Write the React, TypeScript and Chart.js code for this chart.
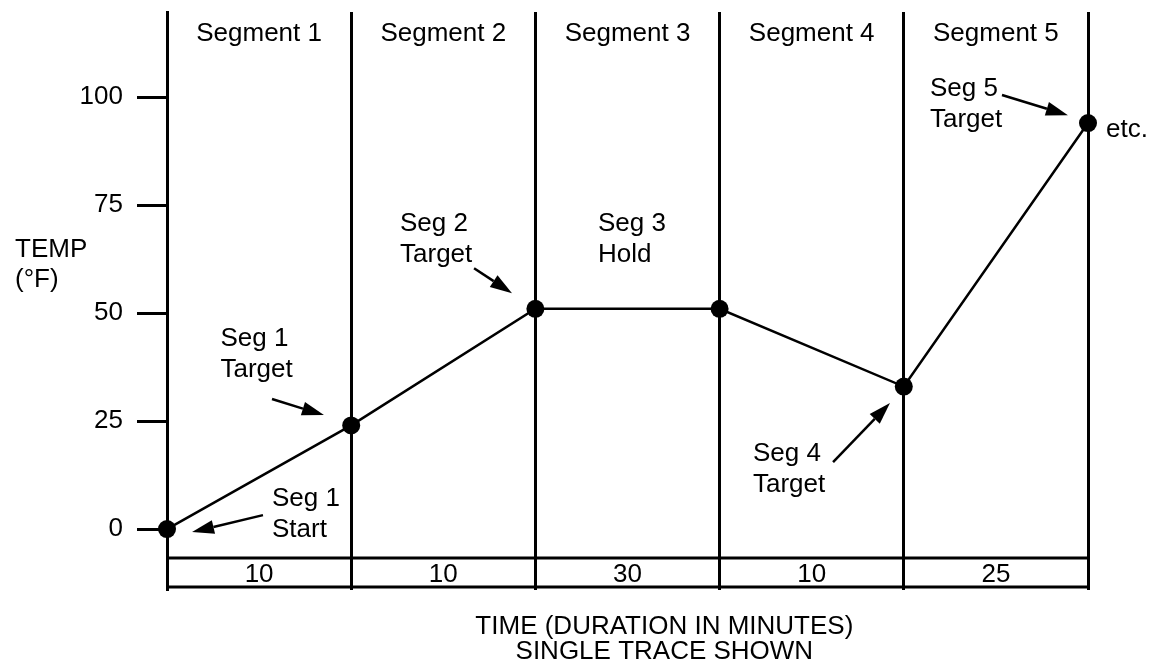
import React, { useEffect, useRef } from 'react';
import { Chart, registerables } from 'chart.js';

Chart.register(...registerables);

// ---- data ----
const SEGMENT_TITLES = ['Segment 1', 'Segment 2', 'Segment 3', 'Segment 4', 'Segment 5'];
const DURATIONS = ['10', '10', '30', '10', '25'];
const BOUNDARIES = [0, 1, 2, 3, 4, 5];
const TEMPS = [0, 24, 51, 51, 33, 94];
const Y_TICKS = [0, 25, 50, 75, 100];
const Y_TITLE = ['TEMP', '(°F)'];
const X_TITLE = ['TIME (DURATION IN MINUTES)', 'SINGLE TRACE SHOWN'];

const NOTE_TEXTS = [
  ['Seg 1', 'Target'],
  ['Seg 1', 'Start'],
  ['Seg 2', 'Target'],
  ['Seg 3', 'Hold'],
  ['Seg 4', 'Target'],
  ['Seg 5', 'Target'],
  ['etc.'],
];

// ---- layout (in data units of the scales) ----
const Y_MIN = -14.1;
const Y_MAX = 119.7;
const TABLE_TOP = -6.7;
const TABLE_BOTTOM = -13.4;
const TABLE_LABEL_Y = -10.1;
const TITLE_Y = 115.0;
const X_TITLE_X = 2.7;
const NOTE_POS = [
  [0.29, 44.4],
  [0.57, 7.4],
  [1.265, 71.1],
  [2.34, 71.1],
  [3.181, 17.8],
  [4.142, 102.3],
  [5.098, 92.8],
];
const ARROW_POS = [
  [0.57, 30.1, 0.852, 26.4],
  [0.521, 3.24, 0.136, -0.69],
  [1.667, 60.4, 1.873, 54.6],
  [3.616, 15.5, 3.925, 29.2],
  [4.533, 100.5, 4.891, 95.8],
];

const FONT = '"Liberation Sans", Arial, Helvetica, sans-serif';
const FS = 26;
const TEXT_DY = 2;

function arrow(ctx: CanvasRenderingContext2D, x1: number, y1: number, x2: number, y2: number) {
  const ang = Math.atan2(y2 - y1, x2 - x1);
  const hl = 22;
  const hw = 7;
  const bx = x2 - hl * Math.cos(ang);
  const by = y2 - hl * Math.sin(ang);
  ctx.beginPath();
  ctx.moveTo(x1, y1);
  ctx.lineTo(bx, by);
  ctx.lineWidth = 2.5;
  ctx.strokeStyle = '#000';
  ctx.stroke();
  ctx.beginPath();
  ctx.moveTo(x2, y2);
  ctx.lineTo(bx + hw * Math.sin(ang), by - hw * Math.cos(ang));
  ctx.lineTo(bx - hw * Math.sin(ang), by + hw * Math.cos(ang));
  ctx.closePath();
  ctx.fillStyle = '#000';
  ctx.fill();
}

const annotPlugin = {
  id: 'annot',
  afterDatasetsDraw(chart: any) {
    const ctx: CanvasRenderingContext2D = chart.ctx;
    const xs = chart.scales.x;
    const ys = chart.scales.y;
    const ca = chart.chartArea;
    const text = (s: string, x: number, y: number) => ctx.fillText(s, x, y + TEXT_DY);
    ctx.save();
    ctx.fillStyle = '#000';
    ctx.strokeStyle = '#000';
    ctx.font = `${FS}px ${FONT}`;
    ctx.textBaseline = 'middle';

    // table lines
    ctx.lineWidth = 3;
    [TABLE_TOP, TABLE_BOTTOM].forEach((v) => {
      const y = ys.getPixelForValue(v);
      ctx.beginPath();
      ctx.moveTo(xs.getPixelForValue(0), y);
      ctx.lineTo(xs.getPixelForValue(BOUNDARIES[BOUNDARIES.length - 1]), y);
      ctx.stroke();
    });

    // segment titles and durations
    ctx.textAlign = 'center';
    SEGMENT_TITLES.forEach((t, i) => {
      const cx = xs.getPixelForValue(i + 0.5);
      text(t, cx, ys.getPixelForValue(TITLE_Y));
      text(DURATIONS[i], cx, ys.getPixelForValue(TABLE_LABEL_Y));
    });

    // x title
    const mid = xs.getPixelForValue(X_TITLE_X);
    text(X_TITLE[0], mid, ca.bottom + 35);
    text(X_TITLE[1], mid, ca.bottom + 60);

    // y title
    ctx.textAlign = 'left';
    text(Y_TITLE[0], 15, ys.getPixelForValue(65));
    text(Y_TITLE[1], 15, ys.getPixelForValue(58.1));

    // notes
    NOTE_TEXTS.forEach((lines, i) => {
      const px = xs.getPixelForValue(NOTE_POS[i][0]);
      const py = ys.getPixelForValue(NOTE_POS[i][1]);
      lines.forEach((l, j) => text(l, px, py + j * 31));
    });

    // arrows
    ARROW_POS.forEach((a) => {
      arrow(
        ctx,
        xs.getPixelForValue(a[0]),
        ys.getPixelForValue(a[1]),
        xs.getPixelForValue(a[2]),
        ys.getPixelForValue(a[3])
      );
    });
    ctx.restore();
  },
};

export default function App() {
  const ref = useRef<HTMLCanvasElement | null>(null);
  useEffect(() => {
    document.body.style.margin = '0';
    const canvas = ref.current;
    if (!canvas) return;
    const chart = new Chart(canvas, {
      type: 'line',
      data: {
        datasets: [
          {
            data: BOUNDARIES.map((x, i) => ({ x, y: TEMPS[i] })),
            borderColor: '#000',
            backgroundColor: '#000',
            borderWidth: 2.5,
            pointRadius: 9,
            pointBackgroundColor: '#000',
            pointBorderWidth: 0,
            tension: 0,
            clip: false as any,
          },
        ],
      },
      options: {
        animation: false,
        responsive: false,
        events: [],
        font: { family: FONT, size: FS } as any,
        layout: { padding: { left: 0, right: 66, top: 12, bottom: 76 } },
        plugins: { legend: { display: false }, tooltip: { enabled: false }, title: { display: false } },
        scales: {
          x: {
            type: 'linear',
            min: 0,
            max: 5,
            afterBuildTicks: (s: any) => {
              s.ticks = BOUNDARIES.map((v) => ({ value: v }));
            },
            afterFit: (s: any) => {
              s.height = 0;
              s.paddingLeft = 0;
              s.paddingRight = 0;
            },
            ticks: { display: false },
            grid: { color: '#000', lineWidth: 3, drawTicks: false },
            border: { display: false },
          },
          y: {
            type: 'linear',
            min: Y_MIN,
            max: Y_MAX,
            afterBuildTicks: (s: any) => {
              s.ticks = Y_TICKS.map((v) => ({ value: v }));
            },
            afterFit: (s: any) => {
              s.width = 167;
              s.paddingTop = 0;
              s.paddingBottom = 0;
            },
            ticks: {
              color: '#000',
              padding: 14,
              font: { family: FONT, size: FS },
            },
            grid: {
              drawOnChartArea: false,
              color: '#000',
              tickLength: 30,
              tickWidth: 3,
              tickColor: '#000',
            },
            border: { display: true, color: '#000', width: 3 },
          },
        },
      },
      plugins: [annotPlugin],
    });
    return () => chart.destroy();
  }, []);
  return (
    <div style={{ width: 1154, height: 666, background: '#fff' }}>
      <canvas ref={ref} width={1154} height={666} />
    </div>
  );
}
